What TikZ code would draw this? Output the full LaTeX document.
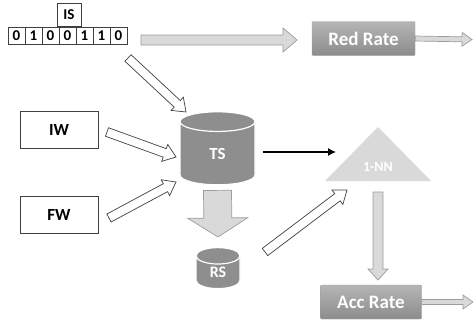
\documentclass[tikz,border=0pt]{standalone}
\usepackage{fontspec}
\setmainfont{Carlito}
\usetikzlibrary{arrows.meta,calc,matrix,positioning,shapes.geometric}
\definecolor{dbgray}{HTML}{8E8E8E}
\definecolor{lightfill}{HTML}{D9D9D9}
\definecolor{edgegray}{HTML}{9C9C9C}
\definecolor{outline}{HTML}{404040}
% block arrow: [style]{from}{to}{half shaft}{half head}{head length}
\newcommand{\blockarrow}[6][]{%
  \coordinate (ba-h) at ($(#3)!#6!(#2)$);
  \draw[#1] ($(#2)!#4!90:(#3)$) -- ($(ba-h)!#4!90:(#3)$) -- ($(ba-h)!#5!90:(#3)$) -- (#3)
    -- ($(ba-h)!#5!-90:(#3)$) -- ($(ba-h)!#4!-90:(#3)$) -- ($(#2)!#4!-90:(#3)$) -- cycle;
}
\tikzset{
  bit/.style={draw=outline, fill=white, line width=0.7pt, minimum width=17pt, minimum height=17pt,
    inner sep=0pt, font=\fontsize{15}{16}\selectfont\bfseries},
  inbox/.style={draw=outline, fill=white, line width=0.7pt, minimum width=78pt, minimum height=37pt,
    font=\fontsize{17}{18}\selectfont\bfseries},
  db/.style={cylinder, shape border rotate=90, draw=white, line width=1.2pt, fill=dbgray,
    text=white, inner sep=0pt, font=\fontsize{17}{18}\selectfont\bfseries},
  ratebox/.style={rectangle, rounded corners=1pt, minimum width=103pt, minimum height=34pt,
    draw=gray!75, top color=gray!58, middle color=gray!80, bottom color=gray!90, text=white,
    font=\fontsize{19}{20}\selectfont\bfseries},
  hollowarrow/.style={draw=outline, fill=white, line width=0.7pt, line join=miter},
  greyarrow/.style={draw=edgegray, fill=lightfill, line width=0.7pt},
  link/.style={-{Latex[length=8pt,width=8pt]}, line width=1.3pt, draw=black}
}
\begin{document}
\begin{tikzpicture}[x=1pt,y=-1pt]
\useasboundingbox (0,0) rectangle (473,324);
% instance string
\matrix[matrix of nodes, nodes={bit}, column sep=-0.7pt, anchor=west] (m) at (4,35.5)
{
  0 & 1 & 0 & 0 & 1 & 1 & 0 \\
};
\node[bit, minimum width=24pt, minimum height=23pt, anchor=south] (is) at ($(m-1-4.north)+(1.5,0.3)$) {IS};
% inputs and sets
\node[inbox] (iw) at (59,129.5) {IW};
\node[inbox] (fw) at (59,214.5) {FW};
\node[db, minimum width=75pt, minimum height=73pt, aspect=1.2] (ts) at (217.5,153.5) {TS};
\node[db, minimum width=44pt, minimum height=41pt, aspect=1.0, font=\fontsize{16}{17}\selectfont\bfseries] (rs) at (218,272.5) {RS};
% classifier
\coordinate (nn-l) at (325,181);
\coordinate (nn-r) at (431,181);
\coordinate (nn-t) at (378,127);
\fill[lightfill] (nn-l) -- (nn-r) -- (nn-t) -- cycle;
\node[text=white, font=\fontsize{14}{15}\selectfont\bfseries] (nn) at (378,167) {1-NN};
% arrow ends
\coordinate (is-out) at (141,40);
\coordinate (red-in) at (297,40);
\coordinate (red-end) at (472,39.5);
\coordinate (acc-end) at (473,302);
\coordinate (m-out) at (128,58);
\coordinate (ts-in1) at (186,112);
\coordinate (iw-out) at (107,132);
\coordinate (ts-in2) at (176,157);
\coordinate (fw-out) at (109,218);
\coordinate (ts-in3) at (176,182);
\coordinate (ts-out) at (263,152);
\coordinate (nn-in0) at (336,152);
\coordinate (ts-dn) at ($(ts.south)+(0,5)$);
\coordinate (rs-up) at ($(rs.north)+(0,-10)$);
\coordinate (rs-out) at (265,252);
\coordinate (nn-in) at (347,190);
\coordinate (nn-dn) at (378,192);
\coordinate (acc-up) at (378,280);
% connectors
\blockarrow[greyarrow]{is-out}{red-in}{5pt}{12pt}{14pt}
\blockarrow[greyarrow]{ts-dn}{rs-up}{14pt}{30pt}{19pt}
\blockarrow[greyarrow]{nn-dn}{acc-up}{5pt}{10pt}{11pt}
\blockarrow[hollowarrow]{m-out}{ts-in1}{4.5pt}{9pt}{12pt}
\blockarrow[hollowarrow]{iw-out}{ts-in2}{4.5pt}{9pt}{12pt}
\blockarrow[hollowarrow]{fw-out}{ts-in3}{4.5pt}{9pt}{12pt}
\blockarrow[hollowarrow]{rs-out}{nn-in}{4.5pt}{9pt}{12pt}
\draw[link] (ts-out) -- (nn-in0);
% results
\node[ratebox] (red) at (363.5,38.5) {Red Rate};
\node[ratebox, minimum width=101pt] (acc) at (371,302) {Acc Rate};
\blockarrow[greyarrow]{red.east}{red-end}{2.5pt}{7pt}{10pt}
\blockarrow[greyarrow]{acc.east}{acc-end}{2.5pt}{7pt}{10pt}
\end{tikzpicture}
\end{document}
